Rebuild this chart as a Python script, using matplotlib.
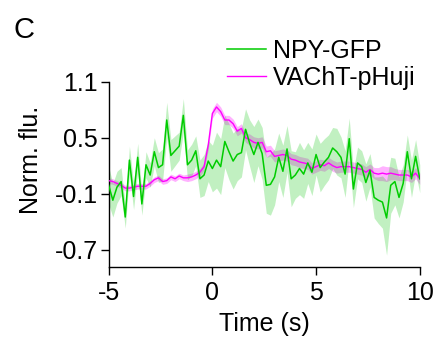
import numpy as np
import matplotlib
matplotlib.use("Agg")
import matplotlib.pyplot as plt

plt.rcParams['font.family'] = ['Liberation Sans', 'DejaVu Sans']
plt.rcParams['axes.unicode_minus'] = False

# --- Data ---
time = np.round(np.arange(-5, 10.0001, 0.2), 2)

npy_mean = [-0.01, -0.17, -0.03, 0.03, -0.35, 0.26, -0.13, 0.29, -0.21, 0.21,
            0.10, 0.35, 0.18, 0.21, 0.69, 0.31, 0.36, 0.41, 0.74, 0.21,
            0.26, 0.36, 0.06, 0.10, 0.25, 0.17, 0.26, 0.19, 0.46, 0.35,
            0.25, 0.32, 0.34, 0.59, 0.44, 0.32, 0.45, 0.33, -0.01, 0.00,
            0.08, 0.29, 0.14, 0.38, 0.06, 0.10, 0.17, 0.11, 0.23, 0.13,
            0.32, 0.18, 0.24, 0.29, 0.39, 0.35, 0.29, 0.11, 0.49, -0.05,
            0.23, 0.19, 0.02, 0.15, -0.14, -0.17, -0.19, -0.36, -0.01, 0.03,
            -0.14, 0.01, 0.35, 0.06, 0.30, 0.06]
npy_sem = [0.20, 0.18, 0.17, 0.15, 0.12, 0.15, 0.14, 0.15, 0.12, 0.14,
           0.13, 0.15, 0.16, 0.17, 0.19, 0.17, 0.16, 0.15, 0.18, 0.16,
           0.17, 0.16, 0.20, 0.22, 0.22, 0.25, 0.30, 0.30, 0.28, 0.30,
           0.30, 0.28, 0.26, 0.22, 0.25, 0.30, 0.25, 0.28, 0.30, 0.33,
           0.30, 0.26, 0.28, 0.25, 0.30, 0.25, 0.28, 0.26, 0.22, 0.25,
           0.22, 0.26, 0.25, 0.24, 0.22, 0.25, 0.22, 0.25, 0.22, 0.20,
           0.17, 0.17, 0.20, 0.18, 0.22, 0.25, 0.28, 0.40, 0.30, 0.25,
           0.22, 0.20, 0.18, 0.20, 0.18, 0.15]

vacht_mean = [0.04, 0.03, 0.01, -0.01, -0.04, -0.04, -0.03, -0.02, -0.02, -0.02,
              0.01, 0.05, 0.07, 0.03, 0.04, 0.08, 0.06, 0.09, 0.07, 0.07,
              0.08, 0.10, 0.13, 0.19, 0.42, 0.76, 0.83, 0.78, 0.69, 0.69,
              0.65, 0.57, 0.60, 0.50, 0.48, 0.45, 0.44, 0.45, 0.35, 0.36,
              0.30, 0.31, 0.32, 0.31, 0.27, 0.26, 0.24, 0.23, 0.22, 0.17,
              0.19, 0.21, 0.20, 0.23, 0.20, 0.18, 0.19, 0.19, 0.19, 0.18,
              0.17, 0.16, 0.13, 0.16, 0.12, 0.11, 0.12, 0.11, 0.12, 0.11,
              0.10, 0.10, 0.10, 0.08, 0.12, 0.06]
vacht_sem = [0.03, 0.03, 0.03, 0.03, 0.03, 0.03, 0.03, 0.03, 0.03, 0.03,
             0.03, 0.03, 0.03, 0.03, 0.03, 0.03, 0.03, 0.03, 0.03, 0.04,
             0.04, 0.04, 0.04, 0.04, 0.05, 0.05, 0.05, 0.05, 0.05, 0.05,
             0.05, 0.05, 0.05, 0.05, 0.06, 0.06, 0.06, 0.06, 0.06, 0.06,
             0.06, 0.06, 0.06, 0.06, 0.06, 0.06, 0.06, 0.06, 0.06, 0.06,
             0.06, 0.06, 0.06, 0.06, 0.06, 0.06, 0.06, 0.06, 0.06, 0.06,
             0.06, 0.06, 0.06, 0.06, 0.06, 0.07, 0.08, 0.08, 0.07, 0.06,
             0.06, 0.06, 0.06, 0.06, 0.06, 0.06]

yticks = [-0.7, -0.1, 0.5, 1.1]
xticks = [-5, 0, 5, 10]

npy_mean = np.array(npy_mean)
npy_sem = np.array(npy_sem)
vacht_mean = np.array(vacht_mean)
vacht_sem = np.array(vacht_sem)

fs = 18

# --- Figure ---
fig = plt.figure(figsize=(4.4, 3.45), dpi=100)
ax = fig.add_axes([0.247, 0.225, 0.707, 0.538])

ax.fill_between(time, vacht_mean - vacht_sem, vacht_mean + vacht_sem,
                color='#ff00ff', alpha=0.3, lw=0)
ax.fill_between(time, npy_mean - npy_sem, npy_mean + npy_sem,
                color='#22cc22', alpha=0.28, lw=0)
ax.plot(time, vacht_mean, color='#ff00ff', lw=1.0, label='VAChT-pHuji', zorder=3)
ax.plot(time, npy_mean, color='#00cc00', lw=1.1, label='NPY-GFP', zorder=4)

ax.set_xlim(-5, 10)
ax.set_ylim(-0.89, 1.1)
ax.set_xticks(xticks)
ax.set_yticks(yticks)
ax.set_yticklabels([f"{v:.1f}" for v in yticks])
for s in ['top', 'right']:
    ax.spines[s].set_visible(False)
for s in ['left', 'bottom']:
    ax.spines[s].set_linewidth(1.0)
ax.tick_params(direction='out', length=6, width=1.0, labelsize=fs)
ax.tick_params(axis='x', pad=4)
ax.tick_params(axis='y', pad=2)

ax.set_xlabel("Time (s)", fontsize=fs, labelpad=5)
ax.set_ylabel("Norm. flu.", fontsize=fs)
ax.yaxis.set_label_coords(-0.212, 0.578)

# legend sits above the axes, no frame
handles, labels = ax.get_legend_handles_labels()
fig.legend(handles[::-1], labels[::-1], loc='upper left',
           bbox_to_anchor=(0.516, 0.888), frameon=False, fontsize=fs,
           handlelength=1.56, handletextpad=0.28, labelspacing=0.14,
           borderpad=0, borderaxespad=0)

fig.text(0.031, 0.89, "C", fontsize=21, va='baseline', ha='left')

fig.savefig("out.png", dpi=100)
